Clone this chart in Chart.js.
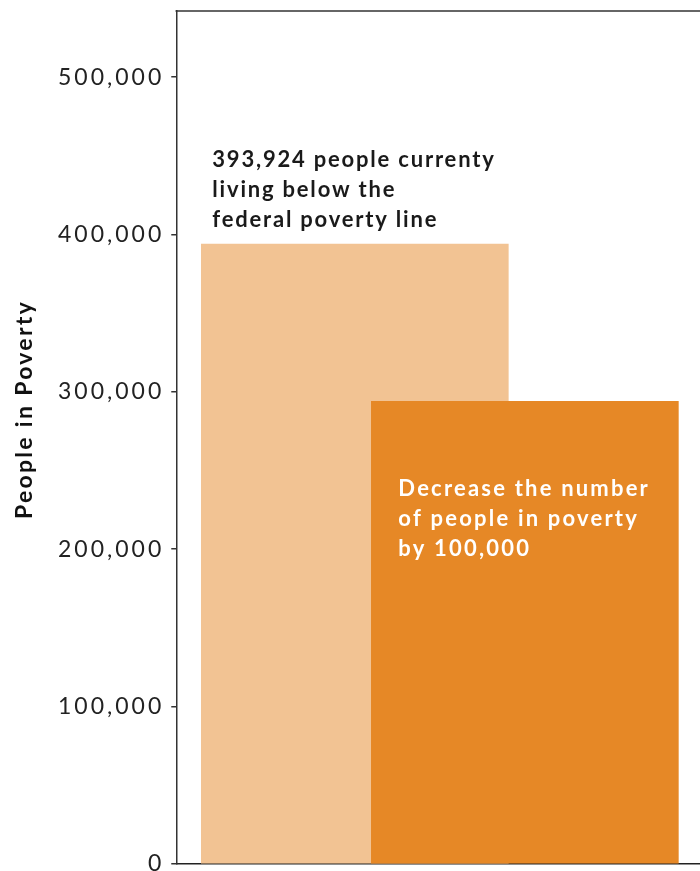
<!DOCTYPE html>
<html>
<head>
<meta charset="utf-8">
<script src="https://cdn.jsdelivr.net/npm/chart.js@4"></script>
<style>
  html, body { margin: 0; padding: 0; background: #ffffff; }
  #wrap { width: 700px; height: 871px; position: relative; }
</style>
</head>
<body>
<div id="wrap"><canvas id="povertyChart"></canvas></div>
<script>
// poverty goal chart – two overlapping bars

const categories = ['Current', 'Goal'];
const people = [393924, 293924];
const barColors = ['#F2C393', '#E68826'];
const yTicks = [0, 100000, 200000, 300000, 400000, 500000];
const yTitle = 'People in Poverty';
const notes = [
    ['393,924 people currenty', 'living below the', 'federal poverty line'],
    ['Decrease the number', 'of people in poverty', 'by 100,000']
];
const noteColors = ['#1a1a1a', '#ffffff'];

const fontName = 'Lato, "Open Sans", sans-serif';

// wider letter spacing for the tick labels, closer to the original typeface
const spacingPlugin = {
    id: 'spacing',
    beforeLayout(chart) { chart.ctx.letterSpacing = '3px'; },
    beforeDraw(chart) { chart.ctx.letterSpacing = '3px'; }
};

// frame top line and the rotated y title
const framePlugin = {
    id: 'frame',
    afterDraw(chart) {
        const { ctx, chartArea } = chart;
        ctx.save();
        ctx.strokeStyle = '#333333';
        ctx.lineWidth = 1.5;
        ctx.beginPath();
        ctx.moveTo(chartArea.left - 0.75, chartArea.top);
        ctx.lineTo(chartArea.right, chartArea.top);
        ctx.stroke();

        ctx.translate(25, (chartArea.top + chartArea.bottom) / 2 - 28);
        ctx.rotate(-Math.PI / 2);
        ctx.font = 'bold 23px ' + fontName;
        ctx.letterSpacing = '2.3px';
        ctx.fillStyle = '#111111';
        ctx.textAlign = 'center';
        ctx.textBaseline = 'middle';
        ctx.fillText(yTitle, 0, 0);
        ctx.restore();
    }
};

// text notes attached to each bar
const notesPlugin = {
    id: 'notes',
    afterDatasetsDraw(chart) {
        const { ctx } = chart;
        const bars = chart.getDatasetMeta(0).data;
        ctx.save();
        ctx.font = 'bold 22px ' + fontName;
        ctx.textBaseline = 'middle';
        ctx.textAlign = 'left';
        bars.forEach((bar, i) => {
            const left = bar.x - bar.width / 2;
            const lines = notes[i];
            ctx.fillStyle = noteColors[i];
            ctx.letterSpacing = i === 0 ? '1.8px' : '2.2px';
            lines.forEach((line, j) => {
                let x, y;
                if (i === 0) {
                    x = left + 11;
                    y = bar.y - 84 + j * 29.7;
                } else {
                    x = left + 27;
                    y = bar.y + 87 + j * 30;
                }
                ctx.fillText(line, x, y);
            });
        });
        ctx.restore();
    }
};

new Chart(document.getElementById('povertyChart'), {
    type: 'bar',
    data: {
        datasets: [{
            label: yTitle,
            data: categories.map((c, i) => ({ x: i + 1, y: people[i] })),
            backgroundColor: barColors,
            borderWidth: 0,
            barThickness: 307
        }]
    },
    options: {
        responsive: true,
        maintainAspectRatio: false,
        animation: false,
        layout: { padding: { top: 11, right: 0, bottom: 7, left: 51 } },
        plugins: {
            legend: { display: false },
            tooltip: { enabled: false }
        },
        scales: {
            x: {
                type: 'linear',
                offset: false,
                min: -0.05,
                max: 3.03,
                grid: { display: false, drawTicks: false },
                ticks: { display: false },
                border: { display: true, color: '#222222', width: 1.5 }
            },
            y: {
                min: 0,
                max: 542000,
                afterBuildTicks(axis) {
                    axis.ticks = yTicks.map(v => ({ value: v }));
                },
                afterFit(axis) {
                    // let the end labels spill over the edges like the original
                    axis.paddingTop = 0;
                    axis.paddingBottom = 0;
                },
                grid: {
                    display: true,
                    drawOnChartArea: false,
                    drawTicks: true,
                    tickLength: 5,
                    color: '#333333',
                    lineWidth: 1.5
                },
                border: { display: true, color: '#333333', width: 1.5 },
                ticks: {
                    color: '#222222',
                    padding: 7,
                    font: { family: fontName, size: 23 },
                    callback: v => v.toLocaleString('en-US')
                },
                title: { display: false }
            }
        }
    },
    plugins: [spacingPlugin, framePlugin, notesPlugin]
});
</script>
</body>
</html>
